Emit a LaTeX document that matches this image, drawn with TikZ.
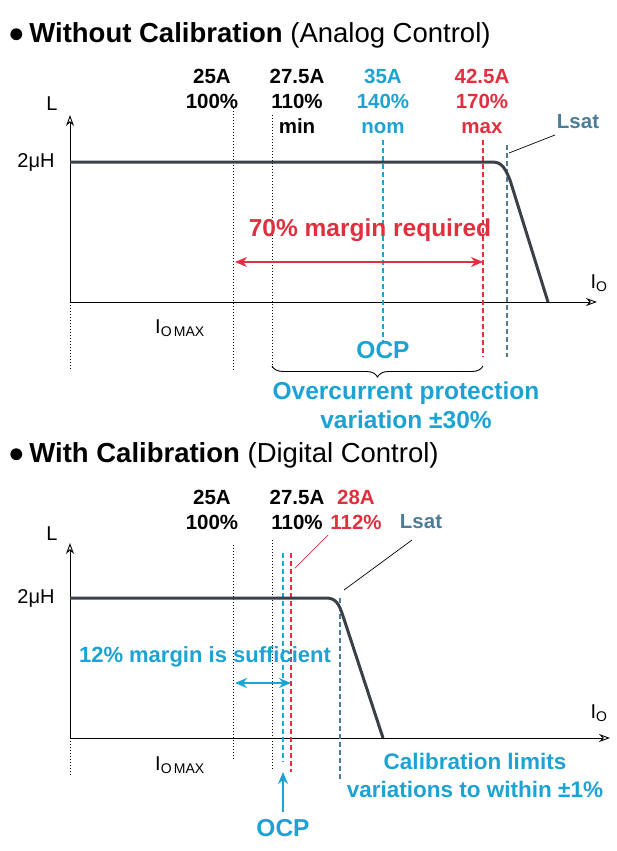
\documentclass[tikz,border=0pt]{standalone}
\usepackage{fontspec}
\setmainfont{Liberation Sans}
\usetikzlibrary{arrows.meta,decorations.pathreplacing}
\definecolor{myred}{HTML}{E0303F}
\definecolor{mycyan}{HTML}{1CA3D4}
\definecolor{mysteel}{HTML}{4B7D98}
\definecolor{mycurve}{HTML}{3A3F48}
\tikzset{
 axis/.style={line width=0.9pt,-{Stealth[length=11pt,width=8pt,open]}},
 dot/.style={dotted,line width=1pt},
 dsh/.style={dashed,line width=1.3pt,dash pattern=on 5pt off 3pt},
 lbl/.style={font=\bfseries\fontsize{20.5}{25}\selectfont,align=center,inner sep=0pt},
 big/.style={font=\bfseries\fontsize{24.5}{29}\selectfont,align=center,inner sep=0pt},
 plain/.style={font=\fontsize{20}{24}\selectfont,inner sep=0pt},
 curve/.style={mycurve,line width=3pt},
 dbl/.style={line width=2pt,{Stealth[length=12pt,width=10pt]}-{Stealth[length=12pt,width=10pt]}}
}
\begin{document}
\begin{tikzpicture}[x=1pt,y=-1pt]
\useasboundingbox (0,0) rectangle (617,851);
% ---------- top ----------
\node[anchor=west,inner sep=0pt] (t1) at (8,35) {\fontsize{27.5}{32}\selectfont ●\,\bfseries Without Calibration \mdseries(Analog Control)};
\node[plain] (L1) at (52,104) {L};
\node[plain] (h1) at (36,162) {2μH};
\node[plain] (io1) at (599,283) {I\textsubscript{O}};
\node[plain] (iom1) at (180,328) {I\textsubscript{O\,MAX}};
\coordinate (o1) at (70,302);
\coordinate (yt1) at (70,115);
\coordinate (xt1) at (597,302);
\draw[axis] (o1) -- (yt1);
\draw[axis] (o1) -- (xt1);
\draw[dot] (70,302) -- (70,370);
\draw[dot] (233,108) -- (233,370);
\draw[dot] (272,115) -- (272,370);
\node[lbl] (a1) at (212,89) {25A\\100\%};
\node[lbl] (b1) at (297,101) {27.5A\\110\%\\min};
\node[lbl,mycyan] (c1) at (383,101) {35A\\140\%\\nom};
\node[lbl,myred] (d1) at (482,101) {42.5A\\170\%\\max};
\node[lbl,mysteel] (ls1) at (578,122) {Lsat};
\draw[dsh,mycyan] (383,140) -- (383,342);
\draw[dsh,myred] (483,140) -- (483,357);
\draw[dsh,mysteel] (507,145) -- (507,357);
\draw[curve] (70,162) -- (492,162) .. controls (502,162) and (505,168) .. (510,180) -- (548,302);
\draw[line width=0.7pt] (555,135) -- (509,153);
\node[big,myred] (m1) at (370,230) {70\% margin required};
\draw[myred,dbl] (235,262) -- (483,262);
\node[big,mycyan] (ocp1) at (383,350) {OCP};
\draw[decorate,decoration={brace,mirror,amplitude=11pt},line width=0.9pt] (272,366) -- (483,366);
\node[big,mycyan] (ov) at (406,405) {Overcurrent protection\\variation ±30\%};
% ---------- bottom ----------
\node[anchor=west,inner sep=0pt] (t2) at (8,455) {\fontsize{27.5}{32}\selectfont ●\,\bfseries With Calibration \mdseries(Digital Control)};
\node[plain] (L2) at (52,534) {L};
\node[plain] (h2) at (36,598) {2μH};
\node[plain] (io2) at (599,713) {I\textsubscript{O}};
\node[plain] (iom2) at (180,765) {I\textsubscript{O\,MAX}};
\coordinate (o2) at (70,738);
\coordinate (yt2) at (70,543);
\coordinate (xt2) at (610,738);
\draw[axis] (o2) -- (yt2);
\draw[axis] (o2) -- (xt2);
\draw[dot] (70,738) -- (70,776);
\draw[dot] (233,545) -- (233,760);
\draw[dot] (272,540) -- (272,770);
\node[lbl] (a2) at (212,510) {25A\\100\%};
\node[lbl] (b2) at (297,510) {27.5A\\110\%};
\node[lbl,myred] (d2) at (356,510) {28A\\112\%};
\node[lbl,mysteel] (ls2) at (421,522) {Lsat};
\draw[dsh,mycyan] (283,553) -- (283,762);
\draw[dsh,myred] (291,553) -- (291,772);
\draw[dsh,mysteel] (340,598) -- (340,782);
\draw[curve] (70,598) -- (326,598) .. controls (336,598) and (339,604) .. (343,616) -- (383,738);
\draw[myred,line width=0.7pt] (328,535) -- (295,568);
\draw[line width=0.7pt] (412,540) -- (344,590);
\node[big,mycyan,font=\bfseries\fontsize{22}{26}\selectfont] (m2) at (205,657) {12\% margin is sufficient};
\draw[mycyan,dbl] (235,683) -- (291,683);
\node[big,mycyan,font=\bfseries\fontsize{22.5}{28}\selectfont] (cal) at (475,775) {Calibration limits\\variations to within ±1\%};
\coordinate (ab) at (283,812);
\coordinate (at) at (283,772);
\draw[mycyan,line width=2pt,-{Stealth[length=12pt,width=10pt]}] (ab) -- (at);
\node[big,mycyan] (ocp2) at (283,828) {OCP};
\end{tikzpicture}
\end{document}
